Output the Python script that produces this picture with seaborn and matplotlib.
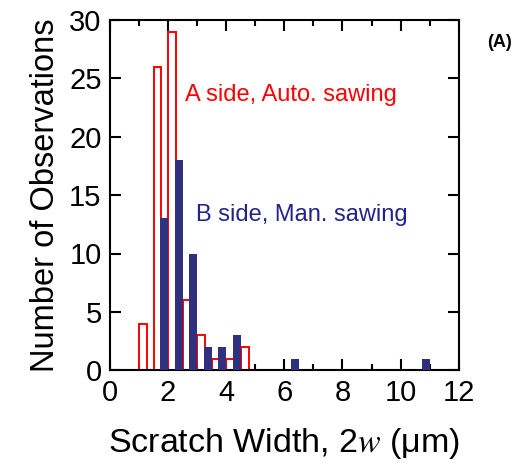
import numpy as np
import pandas as pd
import seaborn as sns
import matplotlib.pyplot as plt

# bin centres (um) and counts
a_width = [1.0, 1.5, 2.0, 2.5, 3.0, 3.5, 4.0, 4.5]
a_count = [4, 26, 29, 6, 3, 1, 1, 2]
b_width = [2.0, 2.5, 3.0, 3.5, 4.0, 4.5, 6.5, 11.0]
b_count = [13, 18, 10, 2, 2, 3, 1, 1]

side_labels = ["B side, Man. sawing", "A side, Auto. sawing"]
red = "#ff0000"
navy = "#23238c"

df = pd.concat([
    pd.DataFrame({"w": b_width, "n": b_count, "side": "B"}),
    pd.DataFrame({"w": a_width, "n": a_count, "side": "A"}),
], ignore_index=True)

sns.set_style("ticks")
plt.rcParams['font.family'] = ['Liberation Sans', 'DejaVu Sans']
plt.rcParams['mathtext.fontset'] = 'stix'
for k in ['text.color', 'axes.labelcolor', 'xtick.color', 'ytick.color']:
    plt.rcParams[k] = 'black'

fig = plt.figure(figsize=(5.16, 4.68), dpi=100)
ax = fig.add_axes([0.213, 0.209, 0.676, 0.748])

sns.barplot(data=df, x="w", y="n", hue="side", hue_order=["B", "A"],
            palette={"B": navy, "A": red}, native_scale=True, dodge=True,
            width=1.08, errorbar=None, legend=False, linewidth=0, ax=ax)

# B bars filled navy, A bars open red
for p in ax.containers[0]:
    p.set_zorder(3)
for p in ax.containers[1]:
    p.set_facecolor("none")
    p.set_edgecolor(red)
    p.set_linewidth(1.4)
    p.set_zorder(2)

ax.set_xlim(0, 12)
ax.set_ylim(0, 30)
ax.set_xticks(np.arange(0, 13, 2))
ax.set_xticks(np.arange(1, 12, 2), minor=True)
ax.set_yticks(np.arange(0, 31, 5))
ax.tick_params(which="both", direction="in", top=True, right=True,
               width=1.5, labelsize=21, pad=6)
ax.tick_params(which="major", length=8)
ax.tick_params(which="minor", length=4.5)
for s in ax.spines.values():
    s.set_linewidth(1.5)
    s.set_color("black")

ax.set_xlabel("Scratch Width, 2$w$ (μm)", fontsize=24.5, labelpad=14)
ax.set_ylabel("Number of Observations", fontsize=23.5, labelpad=6)

ax.text(2.6, 23.6, side_labels[1], color=red, fontsize=17, va="center")
ax.text(2.95, 13.3, side_labels[0], color=navy, fontsize=17, va="center")
fig.text(0.968, 0.91, "(A)", fontsize=13, fontweight="bold", ha="center", va="center")

fig.savefig("out.png", dpi=100)
